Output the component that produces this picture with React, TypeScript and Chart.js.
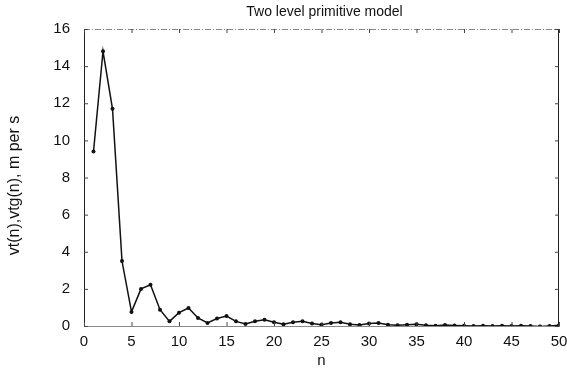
import React, { useEffect, useRef } from "react";
import { Chart, registerables } from "chart.js";

Chart.register(...registerables);

const titleText = "Two level primitive model";
const xTitle = "n";
const yTitle = "vt(n),vtg(n), m per s";

const nValues = [
  1, 2, 3, 4, 5, 6, 7, 8, 9, 10,
  11, 12, 13, 14, 15, 16, 17, 18, 19, 20,
  21, 22, 23, 24, 25, 26, 27, 28, 29, 30,
  31, 32, 33, 34, 35, 36, 37, 38, 39, 40,
  41, 42, 43, 44, 45, 46, 47, 48, 49, 50,
];
const vtValues = [
  9.4, 14.8, 11.7, 3.5, 0.76, 2.0, 2.22, 0.88, 0.25, 0.72,
  0.97, 0.43, 0.16, 0.4, 0.54, 0.25, 0.11, 0.26, 0.34, 0.2,
  0.09, 0.2, 0.25, 0.13, 0.07, 0.16, 0.2, 0.09, 0.05, 0.13,
  0.16, 0.07, 0.04, 0.07, 0.09, 0.04, 0.02, 0.05, 0.03, 0.02,
  0.0, 0.02, 0.0, 0.01, 0.0, 0.01, 0.0, -0.03, 0.0, 0.04,
];
const xTicks = [0, 5, 10, 15, 20, 25, 30, 35, 40, 45, 50];
const yTicks = [0, 2, 4, 6, 8, 10, 12, 14, 16];

const FONT = "'Liberation Sans', Arial, sans-serif";

const framePlugin = {
  id: "frame",
  afterDraw(chart: any) {
    const { ctx, chartArea } = chart;
    const { left, right, top, bottom } = chartArea;
    const xs = chart.scales.x;
    const ys = chart.scales.y;
    ctx.save();
    ctx.strokeStyle = "#888";
    ctx.lineWidth = 1;
    ctx.setLineDash([6, 2, 1, 2]);
    ctx.beginPath();
    ctx.moveTo(left, top + 0.5);
    ctx.lineTo(right, top + 0.5);
    ctx.stroke();
    ctx.setLineDash([]);
    ctx.strokeStyle = "#222";
    ctx.beginPath();
    ctx.moveTo(right - 0.5, top);
    ctx.lineTo(right - 0.5, bottom);
    ctx.stroke();
    ctx.strokeStyle = "#444";
    xTicks.forEach((t) => {
      const px = xs.getPixelForValue(t);
      ctx.beginPath();
      ctx.moveTo(px + 0.5, top);
      ctx.lineTo(px + 0.5, top + 4);
      ctx.moveTo(px + 0.5, bottom);
      ctx.lineTo(px + 0.5, bottom - 4);
      ctx.stroke();
    });
    yTicks.forEach((t) => {
      const py = ys.getPixelForValue(t);
      ctx.beginPath();
      ctx.moveTo(left, py + 0.5);
      ctx.lineTo(left + 4, py + 0.5);
      ctx.moveTo(right, py + 0.5);
      ctx.lineTo(right - 4, py + 0.5);
      ctx.stroke();
    });
    ctx.fillStyle = "#111";
    ctx.font = `14px ${FONT}`;
    ctx.textAlign = "center";
    ctx.textBaseline = "middle";
    ctx.fillText(titleText, (left + right) / 2 + 3, top - 17);
    // y-axis title
    ctx.font = `16px ${FONT}`;
    ctx.translate(15, (top + bottom) / 2 + 8);
    ctx.rotate(-Math.PI / 2);
    ctx.fillText(yTitle, 0, 0);
    ctx.restore();
  },
};

export default function App() {
  const ref = useRef<HTMLCanvasElement>(null);
  useEffect(() => {
    if (!ref.current) return;
    const chart = new Chart(ref.current, {
      type: "line",
      data: {
        datasets: [
          {
            data: nValues.map((n, i) => ({ x: n, y: vtValues[i] })),
            borderColor: "#111",
            backgroundColor: "#111",
            borderWidth: 1.5,
            pointRadius: 2,
            pointBorderWidth: 0,
            pointBackgroundColor: "#111",
            tension: 0,
          },
        ],
      },
      plugins: [framePlugin],
      options: {
        responsive: false,
        animation: false,
        layout: { padding: { left: 0, right: 0, top: 29, bottom: 0 } },
        plugins: {
          legend: { display: false },
          tooltip: { enabled: false },
          title: { display: false },
        },
        scales: {
          x: {
            type: "linear",
            min: 0,
            max: 50,
            afterBuildTicks: (s: any) => {
              s.ticks = xTicks.map((v) => ({ value: v }));
            },
            afterFit: (s: any) => {
              s.height = 44;
              s.paddingRight = 8;
              s.paddingLeft = 0;
            },
            grid: { display: false, drawTicks: false },
            border: { display: true, color: "#888", width: 1, dash: [6, 2, 1, 2] },
            ticks: {
              color: "#111",
              font: { family: FONT, size: 15 },
              padding: 7,
              maxRotation: 0,
            },
            title: {
              display: true,
              text: xTitle,
              color: "#111",
              font: { family: FONT, size: 15 },
              padding: { top: 0, bottom: 0 },
            },
          },
          y: {
            type: "linear",
            min: 0,
            max: 16,
            afterBuildTicks: (s: any) => {
              s.ticks = yTicks.map((v) => ({ value: v }));
            },
            afterFit: (s: any) => {
              s.width = 84;
            },
            grid: { display: false, drawTicks: false },
            border: { display: true, color: "#222", width: 1 },
            ticks: {
              color: "#111",
              font: { family: FONT, size: 15 },
              padding: 14,
            },
            title: { display: false },
          },
        },
      },
    });
    return () => chart.destroy();
  }, []);
  return (
    <div style={{ position: "fixed", left: 0, top: 0, width: 567, height: 370, background: "#fff" }}>
      <canvas ref={ref} width={567} height={370} />
    </div>
  );
}
